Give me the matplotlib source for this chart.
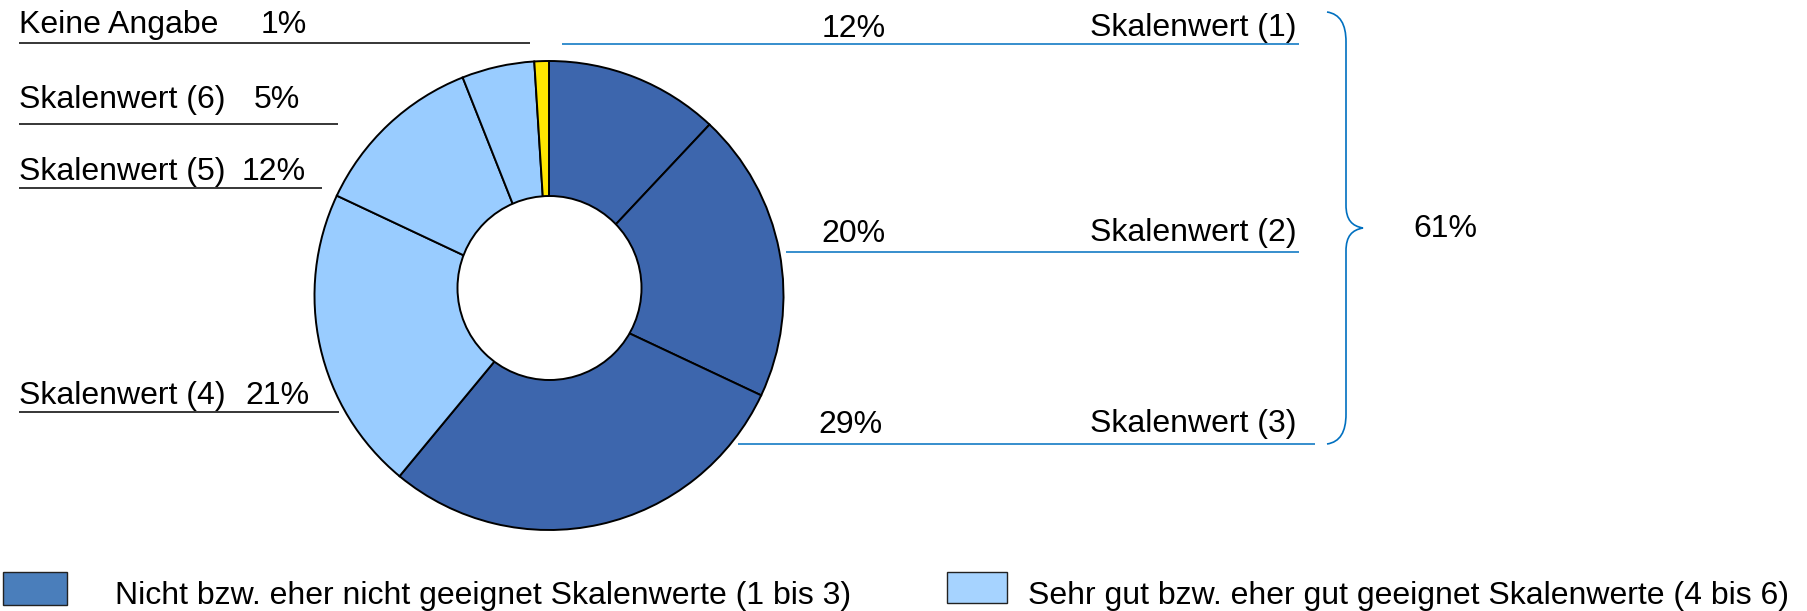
import matplotlib.pyplot as plt
from matplotlib.path import Path
from matplotlib.patches import PathPatch, Rectangle, Circle

# data
labels = ["Skalenwert (1)", "Skalenwert (2)", "Skalenwert (3)",
          "Skalenwert (4)", "Skalenwert (5)", "Skalenwert (6)", "Keine Angabe"]
values = [12, 20, 29, 21, 12, 5, 1]
slice_colors = ["#3D66AD", "#3D66AD", "#3D66AD",
                "#99CCFF", "#99CCFF", "#99CCFF", "#FFE600"]
legend_labels = ["Nicht bzw. eher nicht geeignet Skalenwerte (1 bis 3)",
                 "Sehr gut bzw. eher gut geeignet Skalenwerte (4 bis 6)"]
legend_colors = ["#4A7EBB", "#A6D3FF"]

W, H = 1807, 611
FS = 23
BLUE = "#0070C0"

plt.rcParams["font.family"] = ["Liberation Sans", "DejaVu Sans"]

fig = plt.figure(figsize=(W / 100, H / 100), dpi=100)
ax = fig.add_axes([0, 0, 1, 1])


def Y(y):
    # pixel row (from top) -> data y
    return H - y


# doughnut: full pie plus an offset white hole, as in the original
cx, cy, R = 549, Y(295.5), 234.5
ax.pie(values, colors=slice_colors, startangle=90, counterclock=False,
       center=(cx, cy), radius=R, frame=True,
       wedgeprops=dict(edgecolor="black", linewidth=1.4))
ax.add_patch(Circle((549.5, Y(288)), 92, facecolor="white",
                    edgecolor="black", linewidth=1.4, zorder=5))

# left side labels (6, 5, 4, keine Angabe)
left = {
    6: dict(base=33, pct_x=261, line_y=43, line_x1=530),
    5: dict(base=108, pct_x=254, line_y=124, line_x1=338),
    4: dict(base=180, pct_x=242, line_y=188, line_x1=322),
    3: dict(base=404, pct_x=245, line_y=412, line_x1=339),
}
for i, pos in left.items():
    ax.text(19, Y(pos["base"]), labels[i], fontsize=FS, va="baseline")
    ax.text(pos["pct_x"], Y(pos["base"]), f"{values[i]}%", fontsize=FS,
            va="baseline")
    ax.plot([19, pos["line_x1"]], [Y(pos["line_y"])] * 2, color="black",
            lw=1.1, solid_capstyle="butt")

# right side labels (1, 2, 3)
right = {
    0: dict(base=37, pct_x=822, line_y=44, line_x0=562, line_x1=1299),
    1: dict(base=242, pct_x=821, line_y=252, line_x0=786, line_x1=1299),
    2: dict(base=433, pct_x=818, line_y=444, line_x0=738, line_x1=1315),
}
for i, pos in right.items():
    ax.text(1297, Y(pos["base"] - 1), labels[i], fontsize=FS, va="baseline",
            ha="right")
    ax.text(pos["pct_x"], Y(pos["base"]), f"{values[i]}%", fontsize=FS,
            va="baseline")
    ax.plot([pos["line_x0"], pos["line_x1"]], [Y(pos["line_y"])] * 2,
            color=BLUE, lw=1.1, solid_capstyle="butt")

# curly brace grouping scale values 1-3
bx, tip = 1346, 1363
verts = [
    (1327, 12), (1340, 14), (bx, 24), (bx, 42),
    (bx, 205),
    (bx, 220), (1352, 226), (tip, 228),
    (1352, 230), (bx, 236), (bx, 251),
    (bx, 414),
    (bx, 432), (1340, 442), (1327, 444),
]
codes = [Path.MOVETO, Path.CURVE4, Path.CURVE4, Path.CURVE4,
         Path.LINETO,
         Path.CURVE4, Path.CURVE4, Path.CURVE4,
         Path.CURVE4, Path.CURVE4, Path.CURVE4,
         Path.LINETO,
         Path.CURVE4, Path.CURVE4, Path.CURVE4]
ax.add_patch(PathPatch(Path([(x, Y(y)) for x, y in verts], codes),
                       facecolor="none", edgecolor=BLUE, lw=1.2))
ax.text(1413, Y(237), f"{sum(values[:3])}%", fontsize=FS, va="baseline")

# legend
ax.add_patch(Rectangle((3, Y(605)), 64, 33, facecolor=legend_colors[0],
                       edgecolor="#222222", lw=1.0))
ax.text(115, Y(604), legend_labels[0], fontsize=FS, va="baseline")
ax.add_patch(Rectangle((947, Y(603)), 60, 31, facecolor=legend_colors[1],
                       edgecolor="#222222", lw=1.0))
ax.text(1028, Y(604), legend_labels[1], fontsize=FS, va="baseline")

ax.set_xlim(0, W)
ax.set_ylim(0, H)
ax.set_aspect("auto")
ax.axis("off")

fig.savefig("out.png", dpi=100, facecolor="white")
